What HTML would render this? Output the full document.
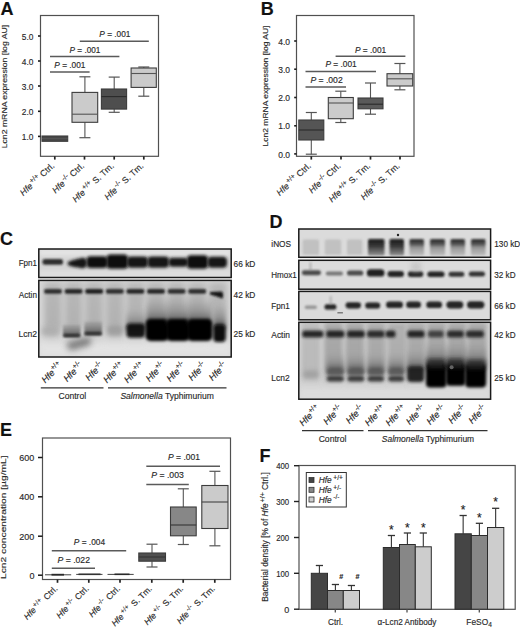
<!DOCTYPE html>
<html><head><meta charset="utf-8"><style>
html,body{margin:0;padding:0;background:#fff;}
svg{display:block;}
text{font-family:"Liberation Sans", sans-serif;stroke:#2a2a2a;stroke-width:0.15px;}
</style></head><body>
<svg width="520" height="628" viewBox="0 0 520 628" font-family='"Liberation Sans", sans-serif'>
<defs><filter id="b1" x="-50%" y="-100%" width="200%" height="300%"><feGaussianBlur stdDeviation="1.2"/></filter><filter id="b2" x="-50%" y="-100%" width="200%" height="300%"><feGaussianBlur stdDeviation="2.0"/></filter><filter id="b3" x="-50%" y="-100%" width="200%" height="300%"><feGaussianBlur stdDeviation="3.0"/></filter><filter id="b15" x="-50%" y="-100%" width="200%" height="300%"><feGaussianBlur stdDeviation="1.6"/></filter><filter id="b05" x="-50%" y="-100%" width="200%" height="300%"><feGaussianBlur stdDeviation="0.7"/></filter><linearGradient id="gs1" x1="0" y1="0" x2="0" y2="1"><stop offset="0" stop-color="#777" stop-opacity="0.25"/><stop offset="0.45" stop-color="#666" stop-opacity="0.65"/><stop offset="1" stop-color="#444" stop-opacity="0.8"/></linearGradient><linearGradient id="gs2" x1="0" y1="0" x2="0" y2="1"><stop offset="0" stop-color="#999" stop-opacity="0"/><stop offset="0.6" stop-color="#777" stop-opacity="0.6"/><stop offset="1" stop-color="#333" stop-opacity="0.95"/></linearGradient><linearGradient id="gl" x1="0" y1="0" x2="0" y2="1"><stop offset="0" stop-color="#b0b0b0" stop-opacity="0.8"/><stop offset="0.7" stop-color="#a8a8a8" stop-opacity="0.8"/><stop offset="1" stop-color="#c8c8c8" stop-opacity="0"/></linearGradient><linearGradient id="gi" x1="0" y1="0" x2="0" y2="1"><stop offset="0" stop-color="#1a1a1a" stop-opacity="0.9"/><stop offset="0.3" stop-color="#2a2a2a" stop-opacity="0.8"/><stop offset="0.55" stop-color="#666" stop-opacity="0.55"/><stop offset="1" stop-color="#888" stop-opacity="0.4"/></linearGradient><linearGradient id="gi2" x1="0" y1="0" x2="0" y2="1"><stop offset="0" stop-color="#111" stop-opacity="0.95"/><stop offset="0.4" stop-color="#222" stop-opacity="0.9"/><stop offset="1" stop-color="#555" stop-opacity="0.6"/></linearGradient><clipPath id="c1"><rect x="38.80" y="249.00" width="192.40" height="28.50"/></clipPath><clipPath id="c2"><rect x="38.80" y="280.40" width="192.40" height="76.60"/></clipPath><clipPath id="d1"><rect x="298.80" y="229.00" width="191.80" height="28.30"/></clipPath><clipPath id="d2"><rect x="298.80" y="260.30" width="191.80" height="28.90"/></clipPath><clipPath id="d3"><rect x="298.80" y="291.40" width="191.80" height="28.40"/></clipPath><clipPath id="d4"><rect x="298.80" y="322.30" width="191.80" height="76.90"/></clipPath></defs>
<rect width="520" height="628" fill="#fff"/>
<text x="0.50" y="15.20" font-size="18" fill="#111" font-weight="bold">A</text>
<rect x="40.50" y="15.50" width="118.00" height="140.80" fill="none" stroke="#505050" stroke-width="1.2"/>
<line x1="38.00" y1="36.00" x2="40.50" y2="36.00" stroke="#1a1a1a" stroke-width="1.6"/>
<text x="33.40" y="39.50" font-size="8.8" text-anchor="end" fill="#2a2a2a" textLength="11.60" lengthAdjust="spacingAndGlyphs">5.0</text>
<line x1="38.00" y1="61.00" x2="40.50" y2="61.00" stroke="#1a1a1a" stroke-width="1.6"/>
<text x="33.40" y="64.50" font-size="8.8" text-anchor="end" fill="#2a2a2a" textLength="11.60" lengthAdjust="spacingAndGlyphs">4.0</text>
<line x1="38.00" y1="86.00" x2="40.50" y2="86.00" stroke="#1a1a1a" stroke-width="1.6"/>
<text x="33.40" y="89.50" font-size="8.8" text-anchor="end" fill="#2a2a2a" textLength="11.60" lengthAdjust="spacingAndGlyphs">3.0</text>
<line x1="38.00" y1="111.30" x2="40.50" y2="111.30" stroke="#1a1a1a" stroke-width="1.6"/>
<text x="33.40" y="114.80" font-size="8.8" text-anchor="end" fill="#2a2a2a" textLength="11.60" lengthAdjust="spacingAndGlyphs">2.0</text>
<line x1="38.00" y1="136.40" x2="40.50" y2="136.40" stroke="#1a1a1a" stroke-width="1.6"/>
<text x="33.40" y="139.90" font-size="8.8" text-anchor="end" fill="#2a2a2a" textLength="11.60" lengthAdjust="spacingAndGlyphs">1.0</text>
<line x1="54.80" y1="156.30" x2="54.80" y2="159.60" stroke="#222" stroke-width="1.7"/>
<line x1="84.50" y1="156.30" x2="84.50" y2="159.60" stroke="#222" stroke-width="1.7"/>
<line x1="114.20" y1="156.30" x2="114.20" y2="159.60" stroke="#222" stroke-width="1.7"/>
<line x1="143.80" y1="156.30" x2="143.80" y2="159.60" stroke="#222" stroke-width="1.7"/>
<text x="7.50" y="86.60" font-size="7.8" text-anchor="middle" fill="#2a2a2a" transform="rotate(-90 7.50 86.60)" textLength="123.50" lengthAdjust="spacingAndGlyphs">Lcn2 mRNA expression [log AU]</text>
<line x1="54.80" y1="136.00" x2="54.80" y2="136.00" stroke="#555" stroke-width="1.1"/>
<line x1="54.80" y1="141.30" x2="54.80" y2="141.30" stroke="#555" stroke-width="1.1"/>
<line x1="54.80" y1="136.00" x2="54.80" y2="136.00" stroke="#555" stroke-width="1.2"/>
<line x1="54.80" y1="141.30" x2="54.80" y2="141.30" stroke="#555" stroke-width="1.2"/>
<rect x="42.00" y="136.00" width="25.70" height="5.30" fill="#474747" stroke="#3c3c3c" stroke-width="1.1"/>
<line x1="42.00" y1="138.60" x2="67.70" y2="138.60" stroke="#555" stroke-width="1.1"/>
<line x1="84.90" y1="76.80" x2="84.90" y2="92.40" stroke="#555" stroke-width="1.1"/>
<line x1="84.90" y1="122.30" x2="84.90" y2="137.70" stroke="#555" stroke-width="1.1"/>
<line x1="79.40" y1="76.80" x2="90.40" y2="76.80" stroke="#555" stroke-width="1.2"/>
<line x1="79.40" y1="137.70" x2="90.40" y2="137.70" stroke="#555" stroke-width="1.2"/>
<rect x="72.00" y="92.40" width="25.70" height="29.90" fill="#cbcbcb" stroke="#3c3c3c" stroke-width="1.1"/>
<line x1="72.00" y1="114.20" x2="97.70" y2="114.20" stroke="#555" stroke-width="1.1"/>
<line x1="114.20" y1="77.10" x2="114.20" y2="89.00" stroke="#555" stroke-width="1.1"/>
<line x1="114.20" y1="109.10" x2="114.20" y2="112.30" stroke="#555" stroke-width="1.1"/>
<line x1="108.70" y1="77.10" x2="119.70" y2="77.10" stroke="#555" stroke-width="1.2"/>
<line x1="108.70" y1="112.30" x2="119.70" y2="112.30" stroke="#555" stroke-width="1.2"/>
<rect x="101.40" y="89.00" width="25.20" height="20.10" fill="#4e4e4e" stroke="#3c3c3c" stroke-width="1.1"/>
<line x1="101.40" y1="96.60" x2="126.60" y2="96.60" stroke="#2a2a2a" stroke-width="1.1"/>
<line x1="143.80" y1="67.00" x2="143.80" y2="68.00" stroke="#555" stroke-width="1.1"/>
<line x1="143.80" y1="87.40" x2="143.80" y2="96.20" stroke="#555" stroke-width="1.1"/>
<line x1="138.30" y1="67.00" x2="149.30" y2="67.00" stroke="#555" stroke-width="1.2"/>
<line x1="138.30" y1="96.20" x2="149.30" y2="96.20" stroke="#555" stroke-width="1.2"/>
<rect x="131.10" y="68.00" width="25.20" height="19.40" fill="#cbcbcb" stroke="#3c3c3c" stroke-width="1.1"/>
<line x1="131.10" y1="73.50" x2="156.30" y2="73.50" stroke="#555" stroke-width="1.1"/>
<line x1="50.00" y1="71.90" x2="89.60" y2="71.90" stroke="#5a5a5a" stroke-width="1.5"/>
<text x="54.30" y="67.90" font-size="8.2" fill="#2a2a2a" textLength="31.20" lengthAdjust="spacingAndGlyphs"><tspan font-style="italic">P</tspan> = .001</text>
<line x1="50.00" y1="56.60" x2="119.40" y2="56.60" stroke="#5a5a5a" stroke-width="1.5"/>
<text x="69.60" y="52.80" font-size="8.2" fill="#2a2a2a" textLength="30.80" lengthAdjust="spacingAndGlyphs"><tspan font-style="italic">P</tspan> = .001</text>
<line x1="79.80" y1="41.20" x2="148.80" y2="41.20" stroke="#5a5a5a" stroke-width="1.5"/>
<text x="99.30" y="37.40" font-size="8.2" fill="#2a2a2a" textLength="31.20" lengthAdjust="spacingAndGlyphs"><tspan font-style="italic">P</tspan> = .001</text>
<text x="55.10" y="166.60" font-size="8.8" fill="#2a2a2a" text-anchor="end" transform="rotate(-43 55.10 166.60)"><tspan font-style="italic">Hfe</tspan><tspan font-size="6.86" dx="1.20" dy="-3.52">+/+</tspan><tspan dx="0.00" dy="3.52"> Ctrl.</tspan></text>
<text x="84.80" y="166.60" font-size="8.8" fill="#2a2a2a" text-anchor="end" transform="rotate(-43 84.80 166.60)"><tspan font-style="italic">Hfe</tspan><tspan font-size="6.86" dx="1.20" dy="-3.52">-/-</tspan><tspan dx="0.00" dy="3.52"> Ctrl.</tspan></text>
<text x="114.50" y="166.60" font-size="8.8" fill="#2a2a2a" text-anchor="end" transform="rotate(-43 114.50 166.60)"><tspan font-style="italic">Hfe</tspan><tspan font-size="6.86" dx="1.20" dy="-3.52">+/+</tspan><tspan dx="0.00" dy="3.52"> S. Tm.</tspan></text>
<text x="144.10" y="166.60" font-size="8.8" fill="#2a2a2a" text-anchor="end" transform="rotate(-43 144.10 166.60)"><tspan font-style="italic">Hfe</tspan><tspan font-size="6.86" dx="1.20" dy="-3.52">-/-</tspan><tspan dx="0.00" dy="3.52"> S. Tm.</tspan></text>
<text x="260.80" y="15.20" font-size="18" fill="#111" font-weight="bold">B</text>
<rect x="296.50" y="15.50" width="117.50" height="140.80" fill="none" stroke="#505050" stroke-width="1.2"/>
<line x1="294.20" y1="41.00" x2="296.50" y2="41.00" stroke="#1a1a1a" stroke-width="1.6"/>
<text x="290.00" y="44.60" font-size="8.8" text-anchor="end" fill="#2a2a2a" textLength="11.80" lengthAdjust="spacingAndGlyphs">4.0</text>
<line x1="294.20" y1="69.20" x2="296.50" y2="69.20" stroke="#1a1a1a" stroke-width="1.6"/>
<text x="290.00" y="72.80" font-size="8.8" text-anchor="end" fill="#2a2a2a" textLength="11.80" lengthAdjust="spacingAndGlyphs">3.0</text>
<line x1="294.20" y1="97.50" x2="296.50" y2="97.50" stroke="#1a1a1a" stroke-width="1.6"/>
<text x="290.00" y="101.10" font-size="8.8" text-anchor="end" fill="#2a2a2a" textLength="11.80" lengthAdjust="spacingAndGlyphs">2.0</text>
<line x1="294.20" y1="125.80" x2="296.50" y2="125.80" stroke="#1a1a1a" stroke-width="1.6"/>
<text x="290.00" y="129.40" font-size="8.8" text-anchor="end" fill="#2a2a2a" textLength="11.80" lengthAdjust="spacingAndGlyphs">1.0</text>
<line x1="294.20" y1="153.90" x2="296.50" y2="153.90" stroke="#1a1a1a" stroke-width="1.6"/>
<text x="290.00" y="157.50" font-size="8.8" text-anchor="end" fill="#2a2a2a" textLength="11.80" lengthAdjust="spacingAndGlyphs">0.0</text>
<line x1="311.30" y1="156.30" x2="311.30" y2="159.60" stroke="#222" stroke-width="1.7"/>
<line x1="341.00" y1="156.30" x2="341.00" y2="159.60" stroke="#222" stroke-width="1.7"/>
<line x1="370.50" y1="156.30" x2="370.50" y2="159.60" stroke="#222" stroke-width="1.7"/>
<line x1="400.00" y1="156.30" x2="400.00" y2="159.60" stroke="#222" stroke-width="1.7"/>
<text x="268.30" y="86.00" font-size="7.6" text-anchor="middle" fill="#2a2a2a" transform="rotate(-90 268.30 86.00)" textLength="121.00" lengthAdjust="spacingAndGlyphs">Lcn2 mRNA expression [log AU]</text>
<line x1="311.30" y1="112.50" x2="311.30" y2="120.00" stroke="#555" stroke-width="1.1"/>
<line x1="311.30" y1="140.00" x2="311.30" y2="154.20" stroke="#555" stroke-width="1.1"/>
<line x1="305.80" y1="112.50" x2="316.80" y2="112.50" stroke="#555" stroke-width="1.2"/>
<line x1="305.80" y1="154.20" x2="316.80" y2="154.20" stroke="#555" stroke-width="1.2"/>
<rect x="298.80" y="120.00" width="25.00" height="20.00" fill="#555555" stroke="#3c3c3c" stroke-width="1.1"/>
<line x1="298.80" y1="130.00" x2="323.80" y2="130.00" stroke="#2a2a2a" stroke-width="1.1"/>
<line x1="340.80" y1="91.20" x2="340.80" y2="97.50" stroke="#555" stroke-width="1.1"/>
<line x1="340.80" y1="118.70" x2="340.80" y2="122.50" stroke="#555" stroke-width="1.1"/>
<line x1="335.30" y1="91.20" x2="346.30" y2="91.20" stroke="#555" stroke-width="1.2"/>
<line x1="335.30" y1="122.50" x2="346.30" y2="122.50" stroke="#555" stroke-width="1.2"/>
<rect x="328.30" y="97.50" width="25.00" height="21.20" fill="#cbcbcb" stroke="#3c3c3c" stroke-width="1.1"/>
<line x1="328.30" y1="103.00" x2="353.30" y2="103.00" stroke="#555" stroke-width="1.1"/>
<line x1="370.50" y1="83.00" x2="370.50" y2="98.00" stroke="#555" stroke-width="1.1"/>
<line x1="370.50" y1="108.80" x2="370.50" y2="114.20" stroke="#555" stroke-width="1.1"/>
<line x1="365.00" y1="83.00" x2="376.00" y2="83.00" stroke="#555" stroke-width="1.2"/>
<line x1="365.00" y1="114.20" x2="376.00" y2="114.20" stroke="#555" stroke-width="1.2"/>
<rect x="358.00" y="98.00" width="25.00" height="10.80" fill="#5a5a5a" stroke="#3c3c3c" stroke-width="1.1"/>
<line x1="358.00" y1="104.20" x2="383.00" y2="104.20" stroke="#2a2a2a" stroke-width="1.1"/>
<line x1="399.90" y1="63.50" x2="399.90" y2="73.70" stroke="#555" stroke-width="1.1"/>
<line x1="399.90" y1="86.00" x2="399.90" y2="89.80" stroke="#555" stroke-width="1.1"/>
<line x1="394.40" y1="63.50" x2="405.40" y2="63.50" stroke="#555" stroke-width="1.2"/>
<line x1="394.40" y1="89.80" x2="405.40" y2="89.80" stroke="#555" stroke-width="1.2"/>
<rect x="387.00" y="73.70" width="25.70" height="12.30" fill="#cbcbcb" stroke="#3c3c3c" stroke-width="1.1"/>
<line x1="387.00" y1="78.80" x2="412.70" y2="78.80" stroke="#555" stroke-width="1.1"/>
<line x1="305.50" y1="87.00" x2="346.00" y2="87.00" stroke="#5a5a5a" stroke-width="1.5"/>
<text x="310.40" y="82.60" font-size="8.2" fill="#2a2a2a" textLength="32.30" lengthAdjust="spacingAndGlyphs"><tspan font-style="italic">P</tspan> = .002</text>
<line x1="305.50" y1="71.50" x2="376.00" y2="71.50" stroke="#5a5a5a" stroke-width="1.5"/>
<text x="325.40" y="67.30" font-size="8.2" fill="#2a2a2a" textLength="31.30" lengthAdjust="spacingAndGlyphs"><tspan font-style="italic">P</tspan> = .001</text>
<line x1="335.60" y1="56.30" x2="405.40" y2="56.30" stroke="#5a5a5a" stroke-width="1.5"/>
<text x="355.00" y="52.60" font-size="8.2" fill="#2a2a2a" textLength="31.20" lengthAdjust="spacingAndGlyphs"><tspan font-style="italic">P</tspan> = .001</text>
<text x="311.60" y="166.60" font-size="8.8" fill="#2a2a2a" text-anchor="end" transform="rotate(-43 311.60 166.60)"><tspan font-style="italic">Hfe</tspan><tspan font-size="6.86" dx="1.20" dy="-3.52">+/+</tspan><tspan dx="0.00" dy="3.52"> Ctrl.</tspan></text>
<text x="341.30" y="166.60" font-size="8.8" fill="#2a2a2a" text-anchor="end" transform="rotate(-43 341.30 166.60)"><tspan font-style="italic">Hfe</tspan><tspan font-size="6.86" dx="1.20" dy="-3.52">-/-</tspan><tspan dx="0.00" dy="3.52"> Ctrl.</tspan></text>
<text x="370.80" y="166.60" font-size="8.8" fill="#2a2a2a" text-anchor="end" transform="rotate(-43 370.80 166.60)"><tspan font-style="italic">Hfe</tspan><tspan font-size="6.86" dx="1.20" dy="-3.52">+/+</tspan><tspan dx="0.00" dy="3.52"> S. Tm.</tspan></text>
<text x="400.30" y="166.60" font-size="8.8" fill="#2a2a2a" text-anchor="end" transform="rotate(-43 400.30 166.60)"><tspan font-style="italic">Hfe</tspan><tspan font-size="6.86" dx="1.20" dy="-3.52">-/-</tspan><tspan dx="0.00" dy="3.52"> S. Tm.</tspan></text>
<text x="0.00" y="245.00" font-size="18" fill="#111" font-weight="bold">C</text>
<g clip-path="url(#c1)">
<rect x="38.80" y="249.00" width="192.40" height="28.50" fill="#d4d4d4"/>
<rect x="38.80" y="249.00" width="192.40" height="7.00" fill="#e4e4e4" filter="url(#b2)"/>
<rect x="38.80" y="270.00" width="192.40" height="8.00" fill="#dedede" filter="url(#b2)"/>
<rect x="42.50" y="259.00" width="20.50" height="5.80" rx="2.50" fill="#1c1c1c" opacity="0.9" filter="url(#b1)"/>
<path d="M67.5,263.6 C67.5,260.8 75,259.6 82,257.8 Q87,257.5 87,263 Q87,268.5 82,268.3 C75,267 67.5,266.4 67.5,263.6 Z" fill="#151515" filter="url(#b15)"/>
<rect x="86.50" y="256.30" width="21.00" height="11.70" rx="4.00" fill="#111" opacity="1.0" filter="url(#b15)"/>
<rect x="106.50" y="254.50" width="21.50" height="14.30" rx="4.00" fill="#0d0d0d" opacity="1.0" filter="url(#b15)"/>
<rect x="127.00" y="256.50" width="21.00" height="11.30" rx="4.00" fill="#121212" opacity="1.0" filter="url(#b15)"/>
<rect x="147.50" y="256.50" width="21.50" height="11.30" rx="4.00" fill="#141414" opacity="1.0" filter="url(#b15)"/>
<rect x="168.50" y="257.80" width="19.50" height="9.00" rx="4.00" fill="#181818" opacity="1.0" filter="url(#b15)"/>
<rect x="187.00" y="255.30" width="21.00" height="13.50" rx="4.00" fill="#0e0e0e" opacity="1.0" filter="url(#b15)"/>
<rect x="207.50" y="256.80" width="19.50" height="11.00" rx="4.00" fill="#141414" opacity="1.0" filter="url(#b15)"/>
</g>
<rect x="38.80" y="249.00" width="192.40" height="28.50" fill="none" stroke="#1a1a1a" stroke-width="1.5"/>
<g clip-path="url(#c2)">
<rect x="38.80" y="280.40" width="192.40" height="76.60" fill="#d8d8d8"/>
<rect x="38.80" y="341.00" width="192.40" height="16.00" fill="#e3e3e3" filter="url(#b3)"/>
<rect x="44.00" y="282.00" width="18.00" height="63.00" fill="url(#gl)" filter="url(#b3)"/>
<rect x="64.60" y="282.00" width="18.00" height="63.00" fill="url(#gl)" filter="url(#b3)"/>
<rect x="85.20" y="282.00" width="18.00" height="63.00" fill="url(#gl)" filter="url(#b3)"/>
<rect x="105.80" y="282.00" width="18.00" height="63.00" fill="url(#gl)" filter="url(#b3)"/>
<rect x="126.40" y="282.00" width="18.00" height="63.00" fill="url(#gl)" filter="url(#b3)"/>
<rect x="147.00" y="282.00" width="18.00" height="63.00" fill="url(#gl)" filter="url(#b3)"/>
<rect x="167.60" y="282.00" width="18.00" height="63.00" fill="url(#gl)" filter="url(#b3)"/>
<rect x="188.20" y="282.00" width="18.00" height="63.00" fill="url(#gl)" filter="url(#b3)"/>
<rect x="208.80" y="282.00" width="18.00" height="63.00" fill="url(#gl)" filter="url(#b3)"/>
<rect x="44.00" y="289.00" width="18.00" height="4.80" rx="2.20" fill="#1a1a1a" opacity="0.87" filter="url(#b1)"/>
<rect x="64.60" y="289.00" width="18.00" height="4.80" rx="2.20" fill="#1a1a1a" opacity="0.92" filter="url(#b1)"/>
<rect x="85.20" y="289.00" width="18.00" height="4.80" rx="2.20" fill="#1a1a1a" opacity="0.97" filter="url(#b1)"/>
<rect x="105.80" y="289.00" width="18.00" height="4.80" rx="2.20" fill="#1a1a1a" opacity="0.87" filter="url(#b1)"/>
<rect x="126.40" y="289.00" width="18.00" height="4.80" rx="2.20" fill="#1a1a1a" opacity="0.92" filter="url(#b1)"/>
<rect x="147.00" y="289.00" width="18.00" height="4.80" rx="2.20" fill="#1a1a1a" opacity="0.92" filter="url(#b1)"/>
<rect x="167.60" y="289.00" width="18.00" height="4.80" rx="2.20" fill="#1a1a1a" opacity="0.87" filter="url(#b1)"/>
<rect x="188.20" y="289.00" width="18.00" height="4.80" rx="2.20" fill="#1a1a1a" opacity="0.87" filter="url(#b1)"/>
<path d="M210,292 L222,291.5 Q224,294 222.5,298.5 Q216,296 210,294.5 Z" fill="#151515" filter="url(#b1)"/>
<rect x="41.50" y="326.50" width="17.30" height="9.50" rx="4.32" fill="#a8a8a8" opacity="0.7" filter="url(#b2)"/>
<rect x="63.00" y="324.50" width="17.40" height="12.50" fill="url(#gs1)" filter="url(#b1)"/>
<rect x="63.50" y="333.80" width="16.50" height="3.40" rx="1.70" fill="#2a2a2a" opacity="0.85" filter="url(#b1)"/>
<path d="M67,342.5 L89,337 Q92,341 90,345 L71,350.5 Q65.5,347 67,342.5 Z" fill="#505050" opacity="0.7" filter="url(#b3)"/>
<rect x="84.40" y="321.50" width="17.60" height="13.80" fill="url(#gs1)" filter="url(#b1)"/>
<rect x="84.80" y="331.80" width="16.80" height="3.50" rx="1.75" fill="#2a2a2a" opacity="0.85" filter="url(#b1)"/>
<rect x="107.20" y="325.50" width="15.60" height="10.50" rx="3.90" fill="#959595" opacity="0.75" filter="url(#b2)"/>
<rect x="126.50" y="308.00" width="18.50" height="22.00" fill="url(#gs2)" filter="url(#b2)"/>
<rect x="126.50" y="323.50" width="18.50" height="14.30" rx="4.00" fill="#111" opacity="0.95" filter="url(#b15)"/>
<rect x="146.50" y="296.00" width="21.50" height="28.00" fill="url(#gs2)" filter="url(#b2)"/>
<rect x="145.50" y="319.00" width="23.50" height="22.00" rx="5.00" fill="#050505" opacity="1.0" filter="url(#b15)"/>
<rect x="167.00" y="296.00" width="22.00" height="28.00" fill="url(#gs2)" filter="url(#b2)"/>
<rect x="166.00" y="319.00" width="24.00" height="22.00" rx="5.00" fill="#050505" opacity="1.0" filter="url(#b15)"/>
<rect x="188.00" y="296.00" width="23.50" height="28.00" fill="url(#gs2)" filter="url(#b2)"/>
<rect x="187.00" y="319.00" width="25.50" height="22.00" rx="5.00" fill="#050505" opacity="1.0" filter="url(#b15)"/>
<rect x="214.00" y="303.00" width="11.50" height="25.00" fill="url(#gs2)" filter="url(#b2)"/>
<rect x="213.30" y="324.30" width="12.40" height="17.70" rx="4.00" fill="#080808" opacity="1.0" filter="url(#b15)"/>
</g>
<rect x="38.80" y="280.40" width="192.40" height="76.60" fill="none" stroke="#1a1a1a" stroke-width="1.5"/>
<text x="37.00" y="266.20" font-size="8.6" text-anchor="end" fill="#2a2a2a" textLength="18.30" lengthAdjust="spacingAndGlyphs">Fpn1</text>
<text x="37.00" y="297.80" font-size="8.6" text-anchor="end" fill="#2a2a2a" textLength="18.20" lengthAdjust="spacingAndGlyphs">Actin</text>
<text x="37.00" y="336.90" font-size="8.6" text-anchor="end" fill="#2a2a2a" textLength="18.60" lengthAdjust="spacingAndGlyphs">Lcn2</text>
<text x="233.60" y="266.90" font-size="8.6" fill="#2a2a2a" textLength="21.80" lengthAdjust="spacingAndGlyphs">66 kD</text>
<text x="233.60" y="297.80" font-size="8.6" fill="#2a2a2a" textLength="21.80" lengthAdjust="spacingAndGlyphs">42 kD</text>
<text x="233.60" y="336.80" font-size="8.6" fill="#2a2a2a" textLength="21.80" lengthAdjust="spacingAndGlyphs">25 kD</text>
<text x="62.70" y="366.20" font-size="9.2" fill="#2a2a2a" text-anchor="end" transform="rotate(-45 62.70 366.20)"><tspan font-style="italic">Hfe</tspan><tspan font-size="6.90" dx="0.3" dy="-3.8">+/+</tspan></text>
<text x="83.30" y="366.20" font-size="9.2" fill="#2a2a2a" text-anchor="end" transform="rotate(-45 83.30 366.20)"><tspan font-style="italic">Hfe</tspan><tspan font-size="6.90" dx="0.3" dy="-3.8">+/-</tspan></text>
<text x="103.90" y="366.20" font-size="9.2" fill="#2a2a2a" text-anchor="end" transform="rotate(-45 103.90 366.20)"><tspan font-style="italic">Hfe</tspan><tspan font-size="6.90" dx="0.3" dy="-3.8">-/-</tspan></text>
<text x="124.50" y="366.20" font-size="9.2" fill="#2a2a2a" text-anchor="end" transform="rotate(-45 124.50 366.20)"><tspan font-style="italic">Hfe</tspan><tspan font-size="6.90" dx="0.3" dy="-3.8">+/+</tspan></text>
<text x="145.10" y="366.20" font-size="9.2" fill="#2a2a2a" text-anchor="end" transform="rotate(-45 145.10 366.20)"><tspan font-style="italic">Hfe</tspan><tspan font-size="6.90" dx="0.3" dy="-3.8">+/+</tspan></text>
<text x="165.70" y="366.20" font-size="9.2" fill="#2a2a2a" text-anchor="end" transform="rotate(-45 165.70 366.20)"><tspan font-style="italic">Hfe</tspan><tspan font-size="6.90" dx="0.3" dy="-3.8">+/-</tspan></text>
<text x="186.30" y="366.20" font-size="9.2" fill="#2a2a2a" text-anchor="end" transform="rotate(-45 186.30 366.20)"><tspan font-style="italic">Hfe</tspan><tspan font-size="6.90" dx="0.3" dy="-3.8">+/-</tspan></text>
<text x="206.90" y="366.20" font-size="9.2" fill="#2a2a2a" text-anchor="end" transform="rotate(-45 206.90 366.20)"><tspan font-style="italic">Hfe</tspan><tspan font-size="6.90" dx="0.3" dy="-3.8">-/-</tspan></text>
<text x="227.50" y="366.20" font-size="9.2" fill="#2a2a2a" text-anchor="end" transform="rotate(-45 227.50 366.20)"><tspan font-style="italic">Hfe</tspan><tspan font-size="6.90" dx="0.3" dy="-3.8">-/-</tspan></text>
<line x1="40.80" y1="387.80" x2="103.50" y2="387.80" stroke="#333" stroke-width="1.2"/>
<line x1="108.00" y1="387.80" x2="226.50" y2="387.80" stroke="#333" stroke-width="1.2"/>
<text x="72.30" y="399.20" font-size="8.6" text-anchor="middle" fill="#2a2a2a">Control</text>
<text x="167.1" y="399.2" font-size="8.6" fill="#2a2a2a" text-anchor="middle" textLength="93.4" lengthAdjust="spacingAndGlyphs"><tspan font-style="italic">Salmonella</tspan> Typhimurium</text>
<text x="269.60" y="227.60" font-size="18" fill="#111" font-weight="bold">D</text>
<g clip-path="url(#d1)">
<rect x="298.80" y="229.00" width="191.80" height="28.30" fill="#dbdbdb"/>
<rect x="302.70" y="239.50" width="16.30" height="15.30" rx="1.50" fill="#bcbcbc" opacity="0.85" filter="url(#b1)"/>
<rect x="324.80" y="239.50" width="16.40" height="15.30" rx="1.50" fill="#bcbcbc" opacity="0.85" filter="url(#b1)"/>
<rect x="347.00" y="239.50" width="15.30" height="15.30" rx="1.50" fill="#bcbcbc" opacity="0.85" filter="url(#b1)"/>
<rect x="368.00" y="239.0" width="16.50" height="16.5" rx="1.5" fill="url(#gi2)" filter="url(#b1)"/>
<rect x="389.50" y="239.0" width="14.50" height="16.5" rx="1.5" fill="url(#gi2)" filter="url(#b1)"/>
<rect x="409.50" y="239.0" width="14.50" height="16.5" rx="1.5" fill="url(#gi)" filter="url(#b1)"/>
<rect x="430.00" y="239.0" width="15.00" height="16.5" rx="1.5" fill="url(#gi)" filter="url(#b1)"/>
<rect x="450.50" y="239.0" width="14.50" height="16.5" rx="1.5" fill="url(#gi)" filter="url(#b1)"/>
<rect x="471.00" y="239.0" width="14.50" height="16.5" rx="1.5" fill="url(#gi)" filter="url(#b1)"/>
<ellipse cx="398.00" cy="235.00" rx="1.20" ry="1.20" fill="#111" opacity="0.9" filter="url(#b05)"/>
</g>
<rect x="298.80" y="229.00" width="191.80" height="28.30" fill="none" stroke="#1a1a1a" stroke-width="1.5"/>
<g clip-path="url(#d2)">
<rect x="298.80" y="260.30" width="191.80" height="28.90" fill="#dcdcdc"/>
<rect x="301.80" y="270.30" width="19.20" height="4.90" rx="2.45" fill="#333" opacity="0.85" filter="url(#b1)"/>
<rect x="325.80" y="271.60" width="17.20" height="4.00" rx="2.00" fill="#555" opacity="0.75" filter="url(#b1)"/>
<rect x="347.00" y="270.50" width="16.30" height="5.10" rx="2.55" fill="#333" opacity="0.85" filter="url(#b1)"/>
<rect x="366.80" y="269.30" width="17.70" height="7.30" rx="3.65" fill="#141414" opacity="0.95" filter="url(#b1)"/>
<rect x="387.50" y="271.00" width="16.50" height="6.00" rx="3.00" fill="#1a1a1a" opacity="0.95" filter="url(#b1)"/>
<rect x="407.80" y="271.20" width="15.50" height="5.80" rx="2.90" fill="#1a1a1a" opacity="0.95" filter="url(#b1)"/>
<rect x="427.40" y="271.40" width="17.10" height="5.60" rx="2.80" fill="#1a1a1a" opacity="0.95" filter="url(#b1)"/>
<rect x="448.60" y="271.80" width="15.70" height="5.00" rx="2.50" fill="#222" opacity="0.9" filter="url(#b1)"/>
<rect x="468.80" y="271.60" width="16.20" height="5.00" rx="2.50" fill="#222" opacity="0.9" filter="url(#b1)"/>
<rect x="309.50" y="262.00" width="2.00" height="9.00" rx="1.00" fill="#888" opacity="0.5" filter="url(#b1)"/>
<rect x="411.00" y="262.00" width="10.00" height="10.00" rx="1.00" fill="#bbb" opacity="0.6" filter="url(#b2)"/>
</g>
<rect x="298.80" y="260.30" width="191.80" height="28.90" fill="none" stroke="#1a1a1a" stroke-width="1.5"/>
<g clip-path="url(#d3)">
<rect x="298.80" y="291.40" width="191.80" height="28.40" fill="#dbdbdb"/>
<rect x="304.70" y="305.40" width="12.30" height="3.60" rx="1.80" fill="#666" opacity="0.6" filter="url(#b1)"/>
<rect x="324.50" y="304.20" width="11.90" height="5.40" rx="2.70" fill="#1a1a1a" opacity="0.95" filter="url(#b1)"/>
<rect x="345.60" y="302.20" width="15.40" height="6.20" rx="3.10" fill="#1a1a1a" opacity="0.95" filter="url(#b1)"/>
<rect x="365.20" y="302.40" width="15.00" height="6.20" rx="3.10" fill="#1a1a1a" opacity="0.95" filter="url(#b1)"/>
<rect x="386.00" y="301.40" width="17.00" height="6.70" rx="3.35" fill="#1a1a1a" opacity="0.95" filter="url(#b1)"/>
<rect x="406.20" y="301.40" width="14.80" height="6.50" rx="3.25" fill="#1a1a1a" opacity="0.95" filter="url(#b1)"/>
<rect x="426.30" y="301.40" width="15.80" height="6.70" rx="3.35" fill="#1a1a1a" opacity="0.95" filter="url(#b1)"/>
<rect x="446.40" y="301.20" width="16.90" height="7.20" rx="3.60" fill="#1a1a1a" opacity="0.95" filter="url(#b1)"/>
<rect x="467.00" y="301.20" width="17.40" height="7.20" rx="3.60" fill="#1a1a1a" opacity="0.95" filter="url(#b1)"/>
<rect x="337.30" y="312.00" width="5.70" height="1.40" rx="0.50" fill="#555" opacity="0.7" filter="url(#b05)"/>
<rect x="329.50" y="296.00" width="2.50" height="9.00" rx="1.00" fill="#999" opacity="0.5" filter="url(#b1)"/>
</g>
<rect x="298.80" y="291.40" width="191.80" height="28.40" fill="none" stroke="#1a1a1a" stroke-width="1.5"/>
<g clip-path="url(#d4)">
<rect x="298.80" y="322.30" width="191.80" height="76.90" fill="#d4d4d4"/>
<rect x="298.80" y="387.00" width="191.80" height="14.00" fill="#dcdcdc" filter="url(#b3)"/>
<rect x="301.30" y="323" width="19" height="66" fill="url(#gl)" opacity="0.5" filter="url(#b2)"/>
<rect x="302.30" y="323" width="17" height="58" fill="#8a8a8a" opacity="0.15" filter="url(#b2)"/>
<rect x="323.90" y="323" width="19" height="66" fill="url(#gl)" opacity="1" filter="url(#b2)"/>
<rect x="324.90" y="323" width="17" height="58" fill="#8a8a8a" opacity="0.30" filter="url(#b2)"/>
<rect x="345.30" y="323" width="19" height="66" fill="url(#gl)" opacity="1" filter="url(#b2)"/>
<rect x="346.30" y="323" width="17" height="58" fill="#8a8a8a" opacity="0.30" filter="url(#b2)"/>
<rect x="366.70" y="323" width="19" height="66" fill="url(#gl)" opacity="0.9" filter="url(#b2)"/>
<rect x="367.70" y="323" width="17" height="58" fill="#8a8a8a" opacity="0.27" filter="url(#b2)"/>
<rect x="387.50" y="323" width="19" height="66" fill="url(#gl)" opacity="0.8" filter="url(#b2)"/>
<rect x="388.50" y="323" width="17" height="58" fill="#8a8a8a" opacity="0.24" filter="url(#b2)"/>
<rect x="406.70" y="323" width="19" height="66" fill="url(#gl)" opacity="0.9" filter="url(#b2)"/>
<rect x="407.70" y="323" width="17" height="58" fill="#8a8a8a" opacity="0.27" filter="url(#b2)"/>
<rect x="427.10" y="323" width="19" height="66" fill="url(#gl)" opacity="1" filter="url(#b2)"/>
<rect x="428.10" y="323" width="17" height="58" fill="#8a8a8a" opacity="0.30" filter="url(#b2)"/>
<rect x="447.70" y="323" width="19" height="66" fill="url(#gl)" opacity="1" filter="url(#b2)"/>
<rect x="448.70" y="323" width="17" height="58" fill="#8a8a8a" opacity="0.30" filter="url(#b2)"/>
<rect x="467.90" y="323" width="19" height="66" fill="url(#gl)" opacity="1" filter="url(#b2)"/>
<rect x="468.90" y="323" width="17" height="58" fill="#8a8a8a" opacity="0.30" filter="url(#b2)"/>
<rect x="302.20" y="330.60" width="21.30" height="6.80" rx="2.50" fill="#151515" opacity="0.9" filter="url(#b15)"/>
<rect x="326.30" y="330.60" width="18.20" height="6.80" rx="2.50" fill="#151515" opacity="0.9" filter="url(#b15)"/>
<rect x="347.00" y="330.60" width="17.80" height="6.80" rx="2.50" fill="#151515" opacity="0.9" filter="url(#b15)"/>
<rect x="367.00" y="330.60" width="17.50" height="6.80" rx="2.50" fill="#151515" opacity="0.85" filter="url(#b15)"/>
<rect x="385.50" y="330.60" width="10.00" height="6.80" rx="2.50" fill="#151515" opacity="0.9" filter="url(#b15)"/>
<rect x="407.30" y="330.60" width="17.30" height="6.80" rx="2.50" fill="#151515" opacity="0.9" filter="url(#b15)"/>
<rect x="427.90" y="330.60" width="15.80" height="6.80" rx="2.50" fill="#151515" opacity="0.7" filter="url(#b15)"/>
<rect x="446.90" y="330.60" width="16.90" height="6.80" rx="2.50" fill="#151515" opacity="0.85" filter="url(#b15)"/>
<rect x="465.90" y="330.60" width="18.00" height="6.80" rx="2.50" fill="#151515" opacity="0.85" filter="url(#b15)"/>
<rect x="302.70" y="370.50" width="16.30" height="8.00" rx="4.00" fill="#8f8f8f" opacity="0.6" filter="url(#b2)"/>
<rect x="326.80" y="352.00" width="17.20" height="20.00" fill="url(#gs2)" filter="url(#b2)"/>
<rect x="326.80" y="369.20" width="17.20" height="6.30" rx="3.15" fill="#505050" opacity="0.75" filter="url(#b15)"/>
<rect x="326.80" y="376.00" width="17.20" height="5.50" rx="2.75" fill="#252525" opacity="0.85" filter="url(#b15)"/>
<rect x="347.50" y="352.00" width="16.80" height="20.00" fill="url(#gs2)" filter="url(#b2)"/>
<rect x="347.50" y="369.20" width="16.80" height="6.30" rx="3.15" fill="#505050" opacity="0.75" filter="url(#b15)"/>
<rect x="347.50" y="376.00" width="16.80" height="5.50" rx="2.75" fill="#252525" opacity="0.85" filter="url(#b15)"/>
<rect x="367.50" y="352.00" width="16.50" height="20.00" fill="url(#gs2)" filter="url(#b2)"/>
<rect x="367.50" y="369.20" width="16.50" height="6.30" rx="3.15" fill="#505050" opacity="0.75" filter="url(#b15)"/>
<rect x="367.50" y="376.00" width="16.50" height="5.50" rx="2.75" fill="#252525" opacity="0.85" filter="url(#b15)"/>
<rect x="388.20" y="352.00" width="15.80" height="20.00" fill="url(#gs2)" filter="url(#b2)"/>
<rect x="388.20" y="369.20" width="15.80" height="6.30" rx="3.15" fill="#505050" opacity="0.75" filter="url(#b15)"/>
<rect x="388.20" y="376.00" width="15.80" height="5.50" rx="2.75" fill="#252525" opacity="0.85" filter="url(#b15)"/>
<rect x="407.20" y="348.00" width="16.90" height="22.00" fill="url(#gs2)" filter="url(#b2)"/>
<rect x="407.20" y="366.50" width="16.90" height="15.50" rx="4.00" fill="#1a1a1a" opacity="0.95" filter="url(#b15)"/>
<rect x="426.00" y="341.00" width="20.50" height="24.00" fill="url(#gs2)" filter="url(#b2)"/>
<rect x="426.00" y="363.00" width="20.50" height="24.40" rx="4.00" fill="#060606" opacity="1.0" filter="url(#b15)"/>
<rect x="427.00" y="359.00" width="18.50" height="9.00" rx="2.00" fill="#2a2a2a" opacity="0.8" filter="url(#b2)"/>
<rect x="446.00" y="341.00" width="19.50" height="24.00" fill="url(#gs2)" filter="url(#b2)"/>
<rect x="446.00" y="363.00" width="19.50" height="22.80" rx="4.00" fill="#060606" opacity="1.0" filter="url(#b15)"/>
<rect x="447.00" y="359.00" width="17.50" height="9.00" rx="2.00" fill="#2a2a2a" opacity="0.8" filter="url(#b2)"/>
<rect x="465.20" y="342.00" width="20.80" height="24.00" fill="url(#gs2)" filter="url(#b2)"/>
<rect x="465.20" y="364.00" width="20.80" height="23.40" rx="4.00" fill="#060606" opacity="1.0" filter="url(#b15)"/>
<rect x="466.20" y="360.00" width="18.80" height="9.00" rx="2.00" fill="#2a2a2a" opacity="0.8" filter="url(#b2)"/>
<ellipse cx="451.60" cy="367.30" rx="2.00" ry="2.00" fill="#777" opacity="0.8" filter="url(#b05)"/>
</g>
<rect x="298.80" y="322.30" width="191.80" height="76.90" fill="none" stroke="#1a1a1a" stroke-width="1.5"/>
<text x="271.30" y="246.80" font-size="8.6" fill="#2a2a2a" textLength="19.80" lengthAdjust="spacingAndGlyphs">iNOS</text>
<text x="271.30" y="277.60" font-size="8.6" fill="#2a2a2a" textLength="25.50" lengthAdjust="spacingAndGlyphs">Hmox1</text>
<text x="271.30" y="308.60" font-size="8.6" fill="#2a2a2a" textLength="18.40" lengthAdjust="spacingAndGlyphs">Fpn1</text>
<text x="271.30" y="337.80" font-size="8.6" fill="#2a2a2a" textLength="18.60" lengthAdjust="spacingAndGlyphs">Actin</text>
<text x="271.30" y="380.80" font-size="8.6" fill="#2a2a2a" textLength="18.30" lengthAdjust="spacingAndGlyphs">Lcn2</text>
<text x="494.30" y="247.20" font-size="8.6" fill="#2a2a2a" textLength="25.90" lengthAdjust="spacingAndGlyphs">130 kD</text>
<text x="494.30" y="278.20" font-size="8.6" fill="#2a2a2a" textLength="21.20" lengthAdjust="spacingAndGlyphs">32 kD</text>
<text x="494.30" y="309.20" font-size="8.6" fill="#2a2a2a" textLength="21.20" lengthAdjust="spacingAndGlyphs">66 kD</text>
<text x="494.30" y="338.20" font-size="8.6" fill="#2a2a2a" textLength="21.20" lengthAdjust="spacingAndGlyphs">42 kD</text>
<text x="494.30" y="380.80" font-size="8.6" fill="#2a2a2a" textLength="21.20" lengthAdjust="spacingAndGlyphs">25 kD</text>
<text x="320.50" y="409.20" font-size="9.2" fill="#2a2a2a" text-anchor="end" transform="rotate(-45 320.50 409.20)"><tspan font-style="italic">Hfe</tspan><tspan font-size="6.90" dx="0.3" dy="-3.8">+/+</tspan></text>
<text x="343.10" y="409.20" font-size="9.2" fill="#2a2a2a" text-anchor="end" transform="rotate(-45 343.10 409.20)"><tspan font-style="italic">Hfe</tspan><tspan font-size="6.90" dx="0.3" dy="-3.8">+/-</tspan></text>
<text x="364.50" y="409.20" font-size="9.2" fill="#2a2a2a" text-anchor="end" transform="rotate(-45 364.50 409.20)"><tspan font-style="italic">Hfe</tspan><tspan font-size="6.90" dx="0.3" dy="-3.8">-/-</tspan></text>
<text x="385.90" y="409.20" font-size="9.2" fill="#2a2a2a" text-anchor="end" transform="rotate(-45 385.90 409.20)"><tspan font-style="italic">Hfe</tspan><tspan font-size="6.90" dx="0.3" dy="-3.8">+/+</tspan></text>
<text x="406.70" y="409.20" font-size="9.2" fill="#2a2a2a" text-anchor="end" transform="rotate(-45 406.70 409.20)"><tspan font-style="italic">Hfe</tspan><tspan font-size="6.90" dx="0.3" dy="-3.8">+/+</tspan></text>
<text x="425.90" y="409.20" font-size="9.2" fill="#2a2a2a" text-anchor="end" transform="rotate(-45 425.90 409.20)"><tspan font-style="italic">Hfe</tspan><tspan font-size="6.90" dx="0.3" dy="-3.8">+/-</tspan></text>
<text x="446.30" y="409.20" font-size="9.2" fill="#2a2a2a" text-anchor="end" transform="rotate(-45 446.30 409.20)"><tspan font-style="italic">Hfe</tspan><tspan font-size="6.90" dx="0.3" dy="-3.8">+/-</tspan></text>
<text x="466.90" y="409.20" font-size="9.2" fill="#2a2a2a" text-anchor="end" transform="rotate(-45 466.90 409.20)"><tspan font-style="italic">Hfe</tspan><tspan font-size="6.90" dx="0.3" dy="-3.8">-/-</tspan></text>
<text x="487.10" y="409.20" font-size="9.2" fill="#2a2a2a" text-anchor="end" transform="rotate(-45 487.10 409.20)"><tspan font-style="italic">Hfe</tspan><tspan font-size="6.90" dx="0.3" dy="-3.8">-/-</tspan></text>
<line x1="302.00" y1="430.70" x2="363.50" y2="430.70" stroke="#333" stroke-width="1.2"/>
<line x1="368.00" y1="430.70" x2="487.50" y2="430.70" stroke="#333" stroke-width="1.2"/>
<text x="332.50" y="442.30" font-size="8.6" text-anchor="middle" fill="#2a2a2a">Control</text>
<text x="428.0" y="442.3" font-size="8.6" fill="#2a2a2a" text-anchor="middle" textLength="92.3" lengthAdjust="spacingAndGlyphs"><tspan font-style="italic">Salmonella</tspan> Typhimurium</text>
<text x="0.00" y="435.90" font-size="18" fill="#111" font-weight="bold">E</text>
<rect x="42.50" y="438.00" width="188.00" height="141.50" fill="none" stroke="#505050" stroke-width="1.2"/>
<line x1="38.00" y1="457.50" x2="42.50" y2="457.50" stroke="#1a1a1a" stroke-width="1.5"/>
<text x="34.40" y="460.80" font-size="9.0" text-anchor="end" fill="#2a2a2a">600</text>
<line x1="38.00" y1="496.80" x2="42.50" y2="496.80" stroke="#1a1a1a" stroke-width="1.5"/>
<text x="34.40" y="500.10" font-size="9.0" text-anchor="end" fill="#2a2a2a">400</text>
<line x1="38.00" y1="536.20" x2="42.50" y2="536.20" stroke="#1a1a1a" stroke-width="1.5"/>
<text x="34.40" y="539.50" font-size="9.0" text-anchor="end" fill="#2a2a2a">200</text>
<line x1="38.00" y1="575.20" x2="42.50" y2="575.20" stroke="#1a1a1a" stroke-width="1.5"/>
<text x="34.40" y="578.50" font-size="9.0" text-anchor="end" fill="#2a2a2a">0</text>
<line x1="57.50" y1="579.50" x2="57.50" y2="582.80" stroke="#222" stroke-width="1.7"/>
<line x1="88.80" y1="579.50" x2="88.80" y2="582.80" stroke="#222" stroke-width="1.7"/>
<line x1="120.00" y1="579.50" x2="120.00" y2="582.80" stroke="#222" stroke-width="1.7"/>
<line x1="151.80" y1="579.50" x2="151.80" y2="582.80" stroke="#222" stroke-width="1.7"/>
<line x1="183.20" y1="579.50" x2="183.20" y2="582.80" stroke="#222" stroke-width="1.7"/>
<line x1="214.80" y1="579.50" x2="214.80" y2="582.80" stroke="#222" stroke-width="1.7"/>
<text x="6.40" y="517.20" font-size="7.3" text-anchor="middle" fill="#2a2a2a" transform="rotate(-90 6.40 517.20)" textLength="123.50" lengthAdjust="spacingAndGlyphs">Lcn2 concentration [µg/mL]</text>
<line x1="45.00" y1="574.80" x2="71.20" y2="574.80" stroke="#444" stroke-width="1.0"/>
<rect x="51.50" y="573.80" width="12.50" height="1.80" fill="#2a2a2a"/>
<line x1="76.20" y1="574.40" x2="102.50" y2="574.40" stroke="#444" stroke-width="1.0"/>
<rect x="78.50" y="573.50" width="22.00" height="1.60" fill="#333"/>
<line x1="107.50" y1="574.40" x2="133.70" y2="574.40" stroke="#444" stroke-width="1.0"/>
<rect x="114.50" y="573.50" width="15.00" height="1.60" fill="#2a2a2a"/>
<line x1="152.00" y1="544.20" x2="152.00" y2="553.00" stroke="#555" stroke-width="1.1"/>
<line x1="152.00" y1="561.20" x2="152.00" y2="567.00" stroke="#555" stroke-width="1.1"/>
<line x1="146.50" y1="544.20" x2="157.50" y2="544.20" stroke="#555" stroke-width="1.2"/>
<line x1="146.50" y1="567.00" x2="157.50" y2="567.00" stroke="#555" stroke-width="1.2"/>
<rect x="138.80" y="553.00" width="26.70" height="8.20" fill="#505050" stroke="#3c3c3c" stroke-width="1.1"/>
<line x1="138.80" y1="557.00" x2="165.50" y2="557.00" stroke="#333" stroke-width="1.1"/>
<line x1="183.30" y1="488.80" x2="183.30" y2="507.00" stroke="#555" stroke-width="1.1"/>
<line x1="183.30" y1="535.80" x2="183.30" y2="544.50" stroke="#555" stroke-width="1.1"/>
<line x1="177.80" y1="488.80" x2="188.80" y2="488.80" stroke="#555" stroke-width="1.2"/>
<line x1="177.80" y1="544.50" x2="188.80" y2="544.50" stroke="#555" stroke-width="1.2"/>
<rect x="170.50" y="507.00" width="25.70" height="28.80" fill="#878787" stroke="#3c3c3c" stroke-width="1.1"/>
<line x1="170.50" y1="525.00" x2="196.20" y2="525.00" stroke="#333" stroke-width="1.1"/>
<line x1="214.90" y1="471.30" x2="214.90" y2="485.50" stroke="#555" stroke-width="1.1"/>
<line x1="214.90" y1="528.50" x2="214.90" y2="545.80" stroke="#555" stroke-width="1.1"/>
<line x1="209.40" y1="471.30" x2="220.40" y2="471.30" stroke="#555" stroke-width="1.2"/>
<line x1="209.40" y1="545.80" x2="220.40" y2="545.80" stroke="#555" stroke-width="1.2"/>
<rect x="201.80" y="485.50" width="26.20" height="43.00" fill="#cbcbcb" stroke="#3c3c3c" stroke-width="1.1"/>
<line x1="201.80" y1="502.00" x2="228.00" y2="502.00" stroke="#444" stroke-width="1.1"/>
<line x1="51.80" y1="568.20" x2="95.00" y2="568.20" stroke="#5a5a5a" stroke-width="1.5"/>
<text x="57.50" y="562.80" font-size="8.2" fill="#2a2a2a" textLength="32.50" lengthAdjust="spacingAndGlyphs"><tspan font-style="italic">P</tspan> = .022</text>
<line x1="51.80" y1="550.80" x2="126.20" y2="550.80" stroke="#5a5a5a" stroke-width="1.5"/>
<text x="73.80" y="545.20" font-size="8.2" fill="#2a2a2a" textLength="31.30" lengthAdjust="spacingAndGlyphs"><tspan font-style="italic">P</tspan> = .004</text>
<line x1="146.30" y1="484.50" x2="188.80" y2="484.50" stroke="#5a5a5a" stroke-width="1.5"/>
<text x="151.30" y="478.20" font-size="8.2" fill="#2a2a2a" textLength="32.50" lengthAdjust="spacingAndGlyphs"><tspan font-style="italic">P</tspan> = .003</text>
<line x1="146.30" y1="466.20" x2="220.00" y2="466.20" stroke="#5a5a5a" stroke-width="1.5"/>
<text x="168.00" y="460.20" font-size="8.2" fill="#2a2a2a" textLength="32.00" lengthAdjust="spacingAndGlyphs"><tspan font-style="italic">P</tspan> = .001</text>
<text x="58.10" y="589.30" font-size="8.6" fill="#2a2a2a" text-anchor="end" transform="rotate(-45 58.10 589.30)"><tspan font-style="italic">Hfe</tspan><tspan font-size="6.71" dx="1.20" dy="-3.44">+/+</tspan><tspan dx="1.20" dy="3.44"> Ctrl.</tspan></text>
<text x="89.40" y="589.30" font-size="8.6" fill="#2a2a2a" text-anchor="end" transform="rotate(-45 89.40 589.30)"><tspan font-style="italic">Hfe</tspan><tspan font-size="6.71" dx="1.20" dy="-3.44">+/-</tspan><tspan dx="1.20" dy="3.44"> Ctrl.</tspan></text>
<text x="120.60" y="589.30" font-size="8.6" fill="#2a2a2a" text-anchor="end" transform="rotate(-45 120.60 589.30)"><tspan font-style="italic">Hfe</tspan><tspan font-size="6.71" dx="1.20" dy="-3.44">-/-</tspan><tspan dx="1.20" dy="3.44"> Ctrl.</tspan></text>
<text x="152.40" y="589.30" font-size="8.6" fill="#2a2a2a" text-anchor="end" transform="rotate(-45 152.40 589.30)"><tspan font-style="italic">Hfe</tspan><tspan font-size="6.71" dx="1.20" dy="-3.44">+/+</tspan><tspan dx="1.20" dy="3.44"> S. Tm.</tspan></text>
<text x="183.80" y="589.30" font-size="8.6" fill="#2a2a2a" text-anchor="end" transform="rotate(-45 183.80 589.30)"><tspan font-style="italic">Hfe</tspan><tspan font-size="6.71" dx="1.20" dy="-3.44">+/-</tspan><tspan dx="1.20" dy="3.44"> S. Tm.</tspan></text>
<text x="215.40" y="589.30" font-size="8.6" fill="#2a2a2a" text-anchor="end" transform="rotate(-45 215.40 589.30)"><tspan font-style="italic">Hfe</tspan><tspan font-size="6.71" dx="1.20" dy="-3.44">-/-</tspan><tspan dx="1.20" dy="3.44"> S. Tm.</tspan></text>
<text x="259.60" y="462.00" font-size="18" fill="#111" font-weight="bold">F</text>
<rect x="299.00" y="465.50" width="216.20" height="143.80" fill="none" stroke="#505050" stroke-width="1.2"/>
<line x1="294.00" y1="465.70" x2="299.00" y2="465.70" stroke="#222" stroke-width="1.4"/>
<text x="289.20" y="469.00" font-size="9.0" text-anchor="end" fill="#2a2a2a" textLength="13.00" lengthAdjust="spacingAndGlyphs">400</text>
<line x1="294.00" y1="501.50" x2="299.00" y2="501.50" stroke="#222" stroke-width="1.4"/>
<text x="289.20" y="504.80" font-size="9.0" text-anchor="end" fill="#2a2a2a" textLength="13.00" lengthAdjust="spacingAndGlyphs">300</text>
<line x1="294.00" y1="537.50" x2="299.00" y2="537.50" stroke="#222" stroke-width="1.4"/>
<text x="289.20" y="540.80" font-size="9.0" text-anchor="end" fill="#2a2a2a" textLength="13.00" lengthAdjust="spacingAndGlyphs">200</text>
<line x1="294.00" y1="573.30" x2="299.00" y2="573.30" stroke="#222" stroke-width="1.4"/>
<text x="289.20" y="576.60" font-size="9.0" text-anchor="end" fill="#2a2a2a" textLength="13.00" lengthAdjust="spacingAndGlyphs">100</text>
<line x1="294.00" y1="609.20" x2="299.00" y2="609.20" stroke="#222" stroke-width="1.4"/>
<text x="289.20" y="612.50" font-size="9.0" text-anchor="end" fill="#2a2a2a">0</text>
<text x="267.8" y="537.0" font-size="8.4" fill="#2a2a2a" text-anchor="middle" transform="rotate(-90 267.8 537.0)" textLength="129.5" lengthAdjust="spacingAndGlyphs">Bacterial density [% of <tspan font-style="italic">Hfe</tspan><tspan font-size="6.8" dx="1.2" dy="-3.2">+/+</tspan><tspan dy="3.2"> Ctrl.]</tspan></text>
<line x1="319.40" y1="565.50" x2="319.40" y2="573.30" stroke="#333" stroke-width="1.1"/>
<line x1="315.80" y1="565.50" x2="323.00" y2="565.50" stroke="#333" stroke-width="1.3"/>
<rect x="311.30" y="573.30" width="16.20" height="35.90" fill="#454545" stroke="#2c2c2c" stroke-width="1.0"/>
<line x1="335.40" y1="584.50" x2="335.40" y2="590.50" stroke="#333" stroke-width="1.1"/>
<line x1="331.80" y1="584.50" x2="339.00" y2="584.50" stroke="#333" stroke-width="1.3"/>
<rect x="327.50" y="590.50" width="15.80" height="18.70" fill="#878787" stroke="#2c2c2c" stroke-width="1.0"/>
<line x1="351.40" y1="585.50" x2="351.40" y2="590.50" stroke="#333" stroke-width="1.1"/>
<line x1="347.80" y1="585.50" x2="355.00" y2="585.50" stroke="#333" stroke-width="1.3"/>
<rect x="343.30" y="590.50" width="16.20" height="18.70" fill="#cdcdcd" stroke="#2c2c2c" stroke-width="1.0"/>
<line x1="391.40" y1="535.50" x2="391.40" y2="547.50" stroke="#333" stroke-width="1.1"/>
<line x1="387.80" y1="535.50" x2="395.00" y2="535.50" stroke="#333" stroke-width="1.3"/>
<rect x="383.30" y="547.50" width="16.20" height="61.70" fill="#454545" stroke="#2c2c2c" stroke-width="1.0"/>
<line x1="407.40" y1="533.00" x2="407.40" y2="544.50" stroke="#333" stroke-width="1.1"/>
<line x1="403.80" y1="533.00" x2="411.00" y2="533.00" stroke="#333" stroke-width="1.3"/>
<rect x="399.50" y="544.50" width="15.80" height="64.70" fill="#878787" stroke="#2c2c2c" stroke-width="1.0"/>
<line x1="423.30" y1="533.00" x2="423.30" y2="546.80" stroke="#333" stroke-width="1.1"/>
<line x1="419.70" y1="533.00" x2="426.90" y2="533.00" stroke="#333" stroke-width="1.3"/>
<rect x="415.30" y="546.80" width="16.00" height="62.40" fill="#cdcdcd" stroke="#2c2c2c" stroke-width="1.0"/>
<line x1="463.15" y1="515.50" x2="463.15" y2="533.80" stroke="#333" stroke-width="1.1"/>
<line x1="459.55" y1="515.50" x2="466.75" y2="515.50" stroke="#333" stroke-width="1.3"/>
<rect x="455.00" y="533.80" width="16.30" height="75.40" fill="#454545" stroke="#2c2c2c" stroke-width="1.0"/>
<line x1="479.40" y1="523.30" x2="479.40" y2="535.50" stroke="#333" stroke-width="1.1"/>
<line x1="475.80" y1="523.30" x2="483.00" y2="523.30" stroke="#333" stroke-width="1.3"/>
<rect x="471.30" y="535.50" width="16.20" height="73.70" fill="#878787" stroke="#2c2c2c" stroke-width="1.0"/>
<line x1="495.65" y1="508.30" x2="495.65" y2="527.50" stroke="#333" stroke-width="1.1"/>
<line x1="492.05" y1="508.30" x2="499.25" y2="508.30" stroke="#333" stroke-width="1.3"/>
<rect x="487.50" y="527.50" width="16.30" height="81.70" fill="#cdcdcd" stroke="#2c2c2c" stroke-width="1.0"/>
<line x1="335.30" y1="609.20" x2="335.30" y2="612.50" stroke="#505050" stroke-width="1.3"/>
<line x1="407.00" y1="609.20" x2="407.00" y2="612.50" stroke="#505050" stroke-width="1.3"/>
<line x1="479.30" y1="609.20" x2="479.30" y2="612.50" stroke="#505050" stroke-width="1.3"/>
<text x="391.30" y="533.50" font-size="12" text-anchor="middle" fill="#1a1a1a">*</text>
<text x="407.30" y="531.50" font-size="12" text-anchor="middle" fill="#1a1a1a">*</text>
<text x="423.30" y="531.50" font-size="12" text-anchor="middle" fill="#1a1a1a">*</text>
<text x="463.20" y="514.00" font-size="12" text-anchor="middle" fill="#1a1a1a">*</text>
<text x="479.30" y="522.00" font-size="12" text-anchor="middle" fill="#1a1a1a">*</text>
<text x="495.50" y="506.00" font-size="12" text-anchor="middle" fill="#1a1a1a">*</text>
<text x="341.30" y="578.80" font-size="7.2" text-anchor="middle" fill="#1a1a1a" font-weight="bold">#</text>
<text x="357.50" y="578.80" font-size="7.2" text-anchor="middle" fill="#1a1a1a" font-weight="bold">#</text>
<text x="335.50" y="625.00" font-size="8.2" text-anchor="middle" fill="#2a2a2a">Ctrl.</text>
<text x="407.00" y="625.00" font-size="8.2" text-anchor="middle" fill="#2a2a2a">α-Lcn2 Antibody</text>
<text x="466.3" y="625.0" font-size="8.4" fill="#2a2a2a">FeSO<tspan font-size="6.6" dy="2">4</tspan></text>
<rect x="306.30" y="472.50" width="40.00" height="34.50" fill="#fff" stroke="#333" stroke-width="1.0"/>
<rect x="309.00" y="477.50" width="5.00" height="5.00" fill="#454545" stroke="#333" stroke-width="0.8"/>
<text x="318.8" y="483.00" font-size="8.3" fill="#2a2a2a"><tspan font-style="italic">Hfe</tspan><tspan font-size="6.6" dx="1.6" dy="-3.2">+/+</tspan></text>
<rect x="309.00" y="487.30" width="5.00" height="5.00" fill="#878787" stroke="#333" stroke-width="0.8"/>
<text x="318.8" y="492.80" font-size="8.3" fill="#2a2a2a"><tspan font-style="italic">Hfe</tspan><tspan font-size="6.6" dx="1.6" dy="-3.2">+/-</tspan></text>
<rect x="309.00" y="497.00" width="5.00" height="5.00" fill="#cdcdcd" stroke="#333" stroke-width="0.8"/>
<text x="318.8" y="502.50" font-size="8.3" fill="#2a2a2a"><tspan font-style="italic">Hfe</tspan><tspan font-size="6.6" dx="1.6" dy="-3.2">-/-</tspan></text>
</svg></body></html>
